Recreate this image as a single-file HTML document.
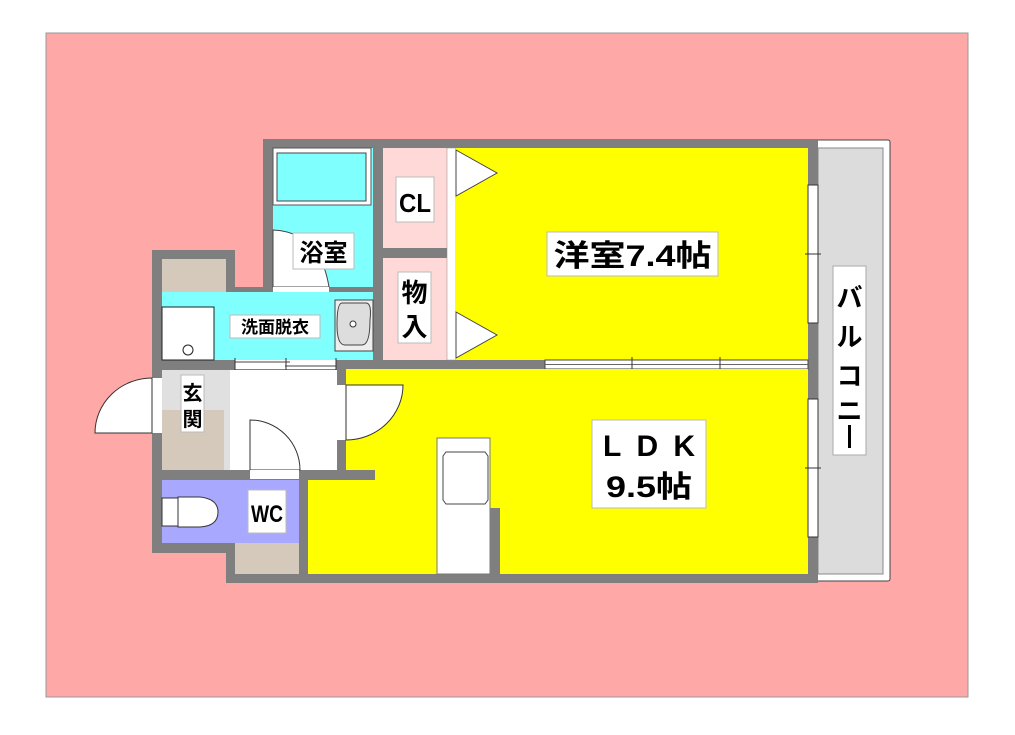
<!DOCTYPE html>
<html><head><meta charset="utf-8"><style>
html,body{margin:0;padding:0;background:#fff;}
svg text{font-family:"Liberation Sans","Noto Sans CJK JP",sans-serif;font-weight:bold;fill:#000;}
</style></head><body>
<svg width="1015" height="730" viewBox="0 0 1015 730" xmlns="http://www.w3.org/2000/svg">
<rect x="46" y="33" width="922" height="664" fill="#ffa8a8" stroke="#999" stroke-width="1"/>
<!-- balcony -->
<rect x="814" y="140" width="76" height="441" fill="#fff" stroke="#444" stroke-width="1" rx="2"/>
<rect x="818" y="148" width="65" height="426" fill="#dcdcdc" stroke="#888" stroke-width="1"/>
<!-- gray wall mass -->
<path d="M263 139 H818 V583 H226 V553 H152 V250 H235 V287 H263 Z" fill="#7f7f7f"/>
<!-- bath -->
<rect x="273" y="148" width="100" height="139" fill="#80ffff"/>
<rect x="273" y="148" width="98" height="57" fill="#fff" stroke="#555" stroke-width="1"/>
<rect x="277" y="153" width="89" height="48" fill="#80ffff" stroke="#444" stroke-width="1"/>
<path d="M273 230 Q320 232 329 287 H273 Z" fill="#fff" stroke="#444" stroke-width="1"/>
<rect x="273" y="287" width="56" height="8" fill="#fff"/>
<!-- CL / storage -->
<rect x="383" y="148" width="64" height="100" fill="#ffd8d8"/>
<rect x="383" y="258" width="64" height="102" fill="#ffd8d8"/>
<rect x="447" y="148" width="9" height="212" fill="#fff" stroke="#888" stroke-width="0.5"/>
<!-- bedroom -->
<rect x="456" y="148" width="352" height="212" fill="#ffff00"/>
<polygon points="456,150 497,173 456,196" fill="#fff" stroke="#444" stroke-width="1"/>
<polygon points="456,312 497,335 456,358" fill="#fff" stroke="#444" stroke-width="1"/>
<!-- sliding door between bedroom and LDK -->
<rect x="545" y="360" width="263" height="9" fill="#fff" stroke="#444" stroke-width="1"/>
<line x1="545" y1="364.5" x2="808" y2="364.5" stroke="#666" stroke-width="1"/>
<line x1="632" y1="357" x2="632" y2="372" stroke="#333"/>
<line x1="720" y1="357" x2="720" y2="372" stroke="#333"/>
<!-- LDK -->
<path d="M346 369 H808 V574 H308 V480 H375 V470 H346 Z" fill="#ffff00"/>
<rect x="300" y="470" width="75" height="10" fill="#7f7f7f"/>
<rect x="437" y="438" width="53" height="136" fill="#fff" stroke="#777" stroke-width="1"/>
<path d="M446 452 H485 L488 456 V500 L485 504 H446 L443 500 V456 Z" fill="#fff" stroke="#444" stroke-width="1"/>
<rect x="490" y="508" width="10" height="66" fill="#7f7f7f"/>
<!-- windows -->
<rect x="808" y="185" width="10" height="138" fill="#fff" stroke="#333" stroke-width="1"/>
<line x1="805" y1="254" x2="821" y2="254" stroke="#333"/>
<rect x="808" y="399" width="10" height="138" fill="#fff" stroke="#333" stroke-width="1"/>
<line x1="805" y1="468" x2="821" y2="468" stroke="#333"/>
<!-- left tan -->
<rect x="162" y="259" width="64" height="33" fill="#d4c9bb"/>
<!-- washroom -->
<rect x="162" y="292" width="211" height="68" fill="#80ffff"/>
<rect x="162" y="307" width="52" height="53" fill="#fff" stroke="#222" stroke-width="1"/>
<circle cx="188" cy="350" r="5" fill="#fff" stroke="#222" stroke-width="1"/>
<rect x="335" y="300" width="38" height="51" fill="#eee" stroke="#444" stroke-width="1"/>
<path d="M342 303 H366 Q372 303 370 320 Q370 345 362 345 H345 Q337 345 337 325 Q337 303 342 303 Z" fill="#ddd" stroke="#444" stroke-width="1"/>
<circle cx="353" cy="324" r="3" fill="#fff" stroke="#333" stroke-width="1"/>
<!-- sliding door wash/hall -->
<rect x="235" y="360" width="101" height="9" fill="#fff"/>
<line x1="235" y1="362" x2="290" y2="362" stroke="#444"/>
<line x1="285" y1="366" x2="336" y2="366" stroke="#444"/>
<line x1="235" y1="358" x2="235" y2="371" stroke="#333"/>
<line x1="336" y1="358" x2="336" y2="371" stroke="#333"/>
<line x1="286" y1="358" x2="286" y2="371" stroke="#333"/>
<!-- genkan -->
<rect x="162" y="370" width="68" height="40" fill="#e0e0e0"/>
<rect x="162" y="410" width="68" height="60" fill="#e0e0e0"/>
<rect x="162" y="410" width="62" height="60" fill="#d4c9bb"/>
<rect x="230" y="370" width="107" height="100" fill="#fff"/>
<!-- entrance door -->
<rect x="152" y="378" width="10" height="55" fill="#fff"/>
<path d="M152 378 A57 55 0 0 0 95 433 H152 Z" fill="#fff" stroke="#333" stroke-width="1"/>
<!-- hall door to WC -->
<path d="M250 420 A50 50 0 0 1 300 470 H250 Z" fill="#fff" stroke="#333" stroke-width="1"/>
<rect x="250" y="470" width="49" height="9" fill="#fff"/>
<!-- door to LDK -->
<rect x="337" y="385" width="9" height="55" fill="#fff"/>
<path d="M346 385 H403 A57 55 0 0 1 346 440 Z" fill="#fff" stroke="#333" stroke-width="1"/>
<!-- WC -->
<rect x="162" y="480" width="137" height="63" fill="#a8a8ff"/>
<rect x="235" y="543" width="64" height="31" fill="#d4c9bb"/>
<path d="M162 498 H178 V497 H200 Q218 499 218 512 Q218 526 200 527 H178 V526 H162 Z" fill="#fff" stroke="#333" stroke-width="1"/>
<line x1="178" y1="498" x2="178" y2="526" stroke="#333"/>
<!-- labels -->
<rect x="293" y="233" width="61" height="36" fill="#fff" stroke="#bbb"/>
<text x="323.5" y="261" font-size="24" text-anchor="middle">浴室</text>
<rect x="396" y="177" width="38" height="45" fill="#fff" stroke="#bbb"/>
<text x="415" y="212" font-size="26" text-anchor="middle" textLength="32" lengthAdjust="spacingAndGlyphs">CL</text>
<rect x="398" y="272" width="33" height="71" fill="#fff" stroke="#bbb"/>
<text x="414.5" y="302" font-size="26" text-anchor="middle">物</text>
<text x="414.5" y="336" font-size="26" text-anchor="middle">入</text>
<rect x="230" y="315" width="90" height="23" fill="#fff" stroke="#bbb"/>
<text x="275" y="333" font-size="17" text-anchor="middle">洗面脱衣</text>
<rect x="181" y="375" width="23" height="57" fill="#fff" stroke="#bbb"/>
<text x="192.5" y="400" font-size="20" text-anchor="middle" font-weight="normal">玄</text>
<text x="192.5" y="426" font-size="20" text-anchor="middle" font-weight="normal">関</text>
<rect x="248" y="490" width="38" height="43" fill="#fff" stroke="#bbb"/>
<text x="267" y="522" font-size="24" text-anchor="middle" textLength="32" lengthAdjust="spacingAndGlyphs">WC</text>
<rect x="547" y="232" width="171" height="44" fill="#fff" stroke="#bbb"/>
<text x="632.5" y="266" font-size="30" text-anchor="middle" textLength="158" lengthAdjust="spacingAndGlyphs">洋室7.4帖</text>
<rect x="592" y="420" width="114" height="88" fill="#fff" stroke="#bbb"/>
<text x="649" y="456" font-size="30" text-anchor="middle" textLength="92" lengthAdjust="spacing">LDK</text>
<text x="649" y="497" font-size="30" text-anchor="middle" textLength="86" lengthAdjust="spacingAndGlyphs">9.5帖</text>
<rect x="833" y="266" width="33" height="189" fill="#fff" stroke="#aaa"/>
<text x="849.5" y="307" font-size="26" text-anchor="middle" font-weight="normal">バ</text>
<text x="849.5" y="346" font-size="26" text-anchor="middle" font-weight="normal">ル</text>
<text x="849.5" y="385" font-size="26" text-anchor="middle" font-weight="normal">コ</text>
<text x="849.5" y="420" font-size="26" text-anchor="middle" font-weight="normal">ニ</text>
<line x1="849.5" y1="425" x2="849.5" y2="448" stroke="#000" stroke-width="3"/>
</svg>
</body></html>
